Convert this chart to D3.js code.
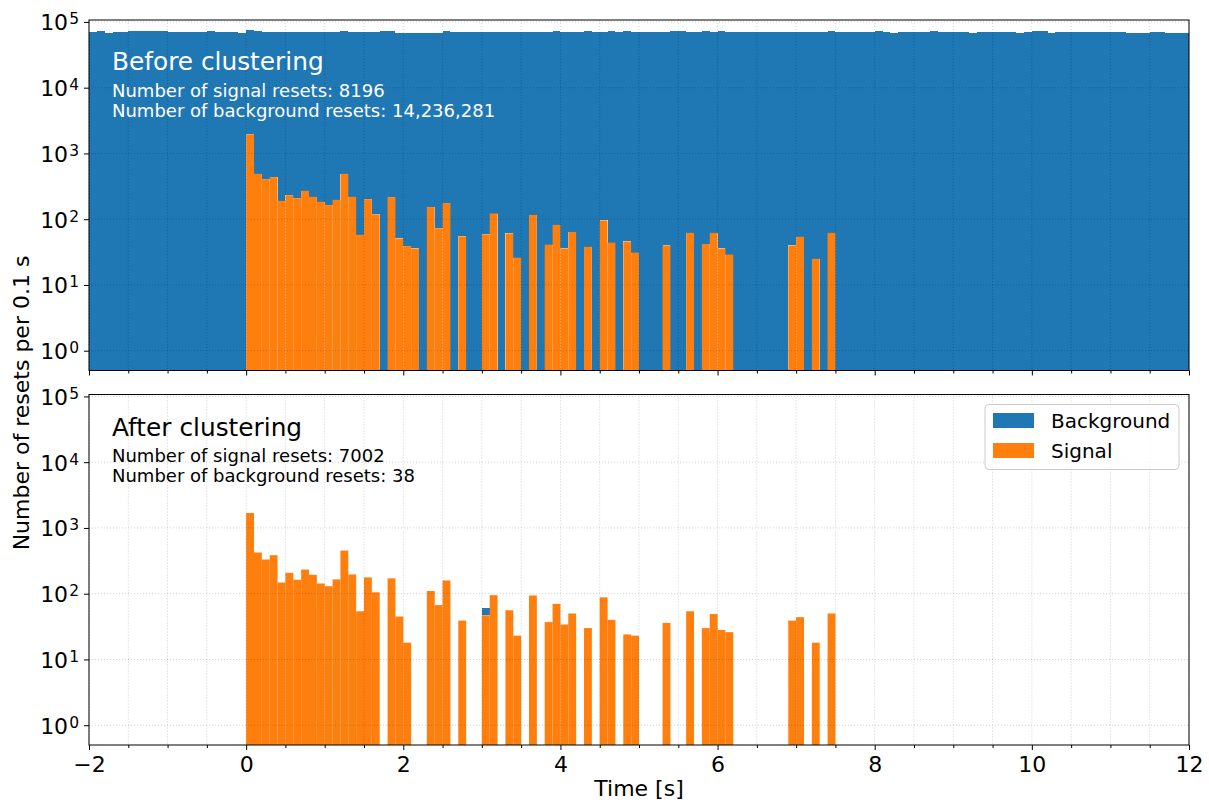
<!DOCTYPE html>
<html>
<head>
<meta charset="utf-8">
<script src="https://cdn.jsdelivr.net/npm/d3@7"></script>
<style>
  html, body { margin: 0; padding: 0; background: #fff; }
  svg { display: block; font-family: "DejaVu Sans", sans-serif; }
</style>
</head>
<body>
<svg id="chart" width="1209" height="800"></svg>
<script>
// Histogram of reset times in 0.1 s bins, before and after clustering.
const binWidth = 0.1;

// Signal resets per bin, starting at t = 0 s
const signalStart = 0.0;
const signalBefore = [
  1960, 490, 407, 436, 190, 232, 209, 270, 219, 184,
  164, 197, 490, 219, 58, 202, 119, 0, 217, 51,
  39, 36, 0, 153, 73, 176, 0, 55, 0, 0,
  59, 122, 0, 61, 26, 0, 116, 0, 41, 82,
  36, 64, 0, 38, 0, 96, 44, 0, 46, 31,
  0, 0, 0, 40, 0, 0, 62, 0, 42, 62,
  36, 29, 0, 0, 0, 0, 0, 0, 0, 40,
  54, 0, 25, 0, 62
];
const signalAfter = [
  1687, 423, 331, 385, 148, 208, 163, 233, 194, 143,
  130, 165, 453, 196, 54, 177, 105, 0, 171, 45,
  18, 0, 0, 110, 67, 159, 0, 39, 0, 0,
  47, 95, 0, 56, 23, 0, 94, 0, 37, 70,
  34, 50, 0, 30, 0, 88, 40, 0, 24, 23,
  0, 0, 0, 36, 0, 0, 54, 0, 30, 49,
  28, 26, 0, 0, 0, 0, 0, 0, 0, 39,
  44, 0, 18, 0, 50
];

// Background resets per bin, starting at t = -2 s (stacked above the signal)
const backgroundStart = -2.0;
const backgroundBefore = [
  70500, 73000, 68000, 70500, 70500, 72000, 72000, 72000, 72000, 72000,
  70500, 69500, 70500, 70500, 71500, 72000, 70500, 69500, 70500, 68000,
  73000, 72000, 70500, 70500, 70500, 69500, 69500, 69500, 69500, 69500,
  70500, 70500, 72000, 70500, 69500, 70500, 69500, 72000, 73000, 68500,
  68500, 68500, 68500, 68500, 68500, 71500, 71500, 70500, 70500, 71500,
  70500, 70500, 71500, 70500, 71500, 70500, 70500, 70500, 70500, 71500,
  70500, 70500, 70500, 71500, 70500, 70500, 71500, 70500, 72000, 70500,
  70500, 71500, 70500, 70500, 72000, 72000, 70500, 71500, 71500, 70500,
  72000, 70500, 70500, 71500, 70500, 70500, 70500, 71500, 70500, 70500,
  70500, 71500, 70500, 70500, 73000, 69500, 69500, 69500, 70500, 70500,
  73000, 70500, 68000, 70500, 70500, 70500, 70500, 72000, 70500, 70500,
  71500, 71500, 68800, 71500, 70500, 69500, 69500, 70500, 68000, 70500,
  72000, 72000, 68000, 70500, 71500, 70500, 70500, 70500, 70500, 70500,
  71500, 70500, 68800, 68800, 68800, 70500, 71500, 68800, 68800, 68800
];
// After clustering only one background bin falls inside the shown window
const backgroundAfterTimes = [3.0];
const backgroundAfterCounts = [14];

// Axis settings
const xDomain = [-2, 12];
const yDomain = [0.5, 1.07e5];
const xMajor = [-2, 0, 2, 4, 6, 8, 10, 12];
const yMajor = [1, 10, 100, 1000, 10000, 100000];
const yExponents = ["0", "1", "2", "3", "4", "5"];

const panels = [
  {
    top: 20, signal: signalBefore,
    background: backgroundBefore.map((v, i) => ({ t: backgroundStart + i * binWidth, v })),
    title: "Before clustering",
    lines: ["Number of signal resets: 8196", "Number of background resets: 14,236,281"],
    textColor: "#ffffff", titleY: 70, lineY: [97, 117], showXLabels: false
  },
  {
    top: 394.5, signal: signalAfter,
    background: backgroundAfterTimes.map((t, i) => ({ t, v: backgroundAfterCounts[i] })),
    title: "After clustering",
    lines: ["Number of signal resets: 7002", "Number of background resets: 38"],
    textColor: "#000000", titleY: 436, lineY: [462, 482], showXLabels: true
  }
];

const blue = "#1f77b4";
const orange = "#ff7f0e";
const left = 89, right = 1189, panelHeight = 350.5;
const tickFont = 22;

const svg = d3.select("#chart");
const x = d3.scaleLinear().domain(xDomain).range([left, right]);

const minorTicks = d3.range(-2, 12.0001, 0.5).filter(v => !xMajor.includes(v));
const gridX = d3.range(-2, 12.0001, 0.5);

panels.forEach((p, pi) => {
  const y = d3.scaleLog().domain(yDomain).range([p.top + panelHeight, p.top]);
  const g = svg.append("g");
  const clipId = "clip" + pi;
  g.append("clipPath").attr("id", clipId)
    .append("rect").attr("x", left).attr("y", p.top)
    .attr("width", right - left).attr("height", panelHeight);

  const bars = g.append("g").attr("clip-path", `url(#${clipId})`);
  const bottom = y.range()[0];

  // signal lookup by bin index from t = 0
  const signalAt = t => {
    const k = Math.round((t - signalStart) / binWidth);
    return (k >= 0 && k < p.signal.length) ? p.signal[k] : 0;
  };

  // background stacked on top of the signal
  bars.selectAll("rect.bg").data(p.background.filter(d => d.v > 0)).join("rect")
    .attr("class", "bg")
    .attr("shape-rendering", "crispEdges")
    .attr("x", d => x(d.t))
    .attr("width", d => x(d.t + binWidth) - x(d.t))
    .attr("y", d => y(signalAt(d.t) + d.v))
    .attr("height", d => {
      const s = signalAt(d.t);
      const base = s > 0 ? y(s) : bottom;
      return base - y(s + d.v);
    })
    .attr("fill", blue);

  const sig = p.signal.map((v, i) => ({ t: signalStart + i * binWidth, v })).filter(d => d.v > 0);
  bars.selectAll("rect.sig").data(sig).join("rect")
    .attr("class", "sig")
    .attr("x", d => x(d.t))
    .attr("width", d => x(d.t + binWidth) - x(d.t))
    .attr("y", d => y(d.v))
    .attr("height", d => bottom - y(d.v))
    .attr("fill", orange);

  // dotted grid on top of the bars
  const grid = g.append("g").attr("stroke", "#000").attr("stroke-opacity", 0.2)
    .attr("stroke-width", 0.9).attr("stroke-dasharray", "1.1,1.9");
  grid.selectAll("line.gx").data(gridX).join("line")
    .attr("x1", d => x(d)).attr("x2", d => x(d))
    .attr("y1", p.top).attr("y2", bottom);
  grid.selectAll("line.gy").data(yMajor).join("line")
    .attr("x1", left).attr("x2", right)
    .attr("y1", d => y(d)).attr("y2", d => y(d));

  // x axis: major and minor ticks
  const xAxis = g.append("g").attr("transform", `translate(0,${bottom})`)
    .call(d3.axisBottom(x).tickValues(xMajor).tickSize(5).tickPadding(6)
      .tickFormat(d => p.showXLabels ? (d < 0 ? "\u2212" + Math.abs(d) : String(d)) : ""));
  xAxis.select(".domain").remove();
  xAxis.selectAll("text").attr("font-size", tickFont).attr("font-family", "DejaVu Sans").attr("fill", "#000");
  const xMinor = g.append("g").attr("transform", `translate(0,${bottom})`)
    .call(d3.axisBottom(x).tickValues(minorTicks).tickSize(3).tickFormat(""));
  xMinor.select(".domain").remove();

  // y axis with power-of-ten labels
  const yAxis = g.append("g").attr("transform", `translate(${left},0)`)
    .call(d3.axisLeft(y).tickValues(yMajor).tickSize(5).tickPadding(5).tickFormat(""));
  yAxis.select(".domain").remove();
  yAxis.selectAll(".tick text").each(function (d, i) {
    const t = d3.select(this).attr("font-size", tickFont).attr("font-family", "DejaVu Sans")
      .attr("fill", "#000").attr("dy", "0.36em");
    t.append("tspan").text("10");
    t.append("tspan").attr("font-size", 15.5).attr("dy", -6).attr("dx", 1).text(yExponents[i]);
  });

  // frame
  g.append("rect").attr("x", left).attr("y", p.top)
    .attr("width", right - left).attr("height", panelHeight)
    .attr("fill", "none").attr("stroke", "#000").attr("stroke-width", 1);

  // annotations
  g.append("text").attr("x", 112).attr("y", p.titleY).attr("font-size", 24.8)
    .attr("fill", p.textColor).text(p.title);
  p.lines.forEach((line, li) => {
    g.append("text").attr("x", 112).attr("y", p.lineY[li]).attr("font-size", 18)
      .attr("fill", p.textColor).text(line);
  });
});

// legend in the lower panel
const legend = svg.append("g");
legend.append("rect").attr("x", 985).attr("y", 404.5).attr("width", 194).attr("height", 65)
  .attr("rx", 4).attr("fill", "#fff").attr("fill-opacity", 0.8)
  .attr("stroke", "#cccccc").attr("stroke-width", 1);
const legendItems = [{ label: "Background", color: blue }, { label: "Signal", color: orange }];
legendItems.forEach((d, i) => {
  legend.append("rect").attr("x", 993).attr("y", 413 + i * 30).attr("width", 41).attr("height", 15)
    .attr("fill", d.color);
  legend.append("text").attr("x", 1051).attr("y", 427.5 + i * 30).attr("font-size", 20)
    .attr("fill", "#000").text(d.label);
});

// shared axis labels
svg.append("text").attr("x", 639).attr("y", 796).attr("text-anchor", "middle")
  .attr("font-size", 22).attr("fill", "#000").text("Time [s]");
svg.append("text").attr("transform", "translate(29,403) rotate(-90)")
  .attr("text-anchor", "middle").attr("font-size", 22).attr("fill", "#000")
  .text("Number of resets per 0.1 s");
</script>
</body>
</html>
